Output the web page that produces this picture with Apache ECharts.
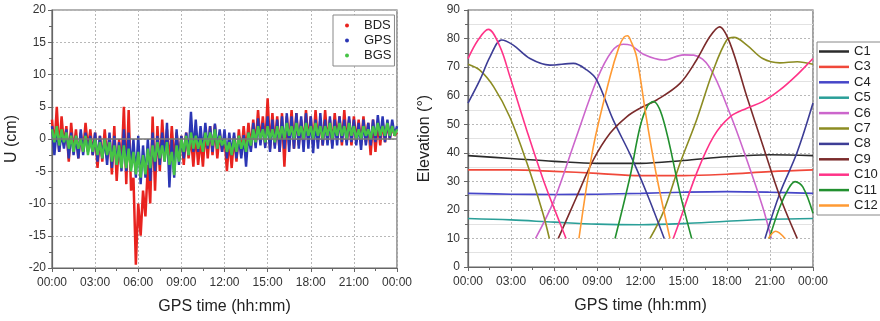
<!DOCTYPE html>
<html><head><meta charset="utf-8">
<script src="https://cdn.jsdelivr.net/npm/echarts@6/dist/echarts.min.js"></script>
<style>html,body{margin:0;padding:0;background:#fff}#c{width:880px;height:321px}</style>
</head><body><div id="c"></div>
<script>
// ---- tick labels ----
const tickLabels = ['00:00','03:00','06:00','09:00','12:00','15:00','18:00','21:00','00:00'];

// ---- left chart: U residuals (cm), one value every 10 min from 00:00 to 24:00 ----
const bds = [
3,-1.5,5,-2,3.5,-1,
2,-3.5,2.5,-2,1.5,-3,
1,-2,2.5,-1.5,1.5,-2.5,
1,-4.5,0.5,-3.5,1.5,-3,
0.5,-5.5,2,-6.5,0,-4.5,
5,-7,4.5,-8,-6,-19.5,
-10,-15,-8,-12,-4,-10,
3.5,-8,2,-5,3,-3,
1.5,-4,2,-3.5,1,-3,
0.5,-4,1,-3,0.5,-4.3,
1,-4,0,-4.3,1.5,-3,
2,-2.5,2.2,-3,1,-2,
0.5,-5,0,-4.5,0.5,-3.5,
1.5,-2.5,2,-2,2.5,-1.5,
3,-1,4.5,-0.5,3.5,-1,
6.3,-1.5,4,-1,3.5,-2,
4,-4.3,3.5,-1,4.5,-1.5,
4,-1,3,-1,4.5,-0.5,
3.5,-1,4.5,-0.5,3,-1,
4.5,-0.5,3,-1,4,0,
3.5,-1,4.5,-0.5,3,-1,
3.5,-0.5,3,-1,3.5,-0.5,
2.5,-2.5,3,-2,2.5,-1,
2.7,-0.5,2.5,0,2,0.5,
1];
const gps = [
2,-2.5,1.5,-2,1,-1.5,
1.5,-3,1,-2.5,0.5,-3,
1.5,-2.5,1,-2,0.5,-2.5,
1,-3.5,0.5,-3,0,-4,
1,-4.5,0.5,-4,-0.5,-5,
1.5,-5,1,-4.5,0,-6,
0.5,-7,-1,-6,0,-6.5,
1,-5,0.5,-4,1,-3.5,
2.5,-7.5,0,-6,1.5,-4,
0.5,-3,1,-2.5,4.2,-2,
3,-2,2,-2,2.5,-1.5,
2,-2,2.4,-1.5,1.5,-2,
1.5,-3,1,-2.5,1,-3,
0.5,-3,0.6,-4.3,1,-2,
2.5,-1.4,3.2,-1,2.5,-1.4,
3.5,-2,3,-1.5,3,-2,
3.5,-1.5,4,-2,3.5,-1.5,
4,-1.5,3.5,-2,4,-1.5,
3.5,-2.2,3,-1.5,4,-1,
3,-1,3.5,-1.5,3,-1,
3.5,-0.5,3,-1,3.5,-0.5,
3,-1,2.5,-1.7,3,-1,
2.5,-1,3,-0.5,3.7,0,
3.5,-0.5,3,0,3,0.5,
2];
const bgs = [
1.5,-0.5,2,-1,1.5,-0.5,
1,-1.5,0.5,-2,0.5,-1.5,
0,-2,0.5,-2.5,0,-2,
0,-2.5,-0.5,-3,0,-2.5,
-0.5,-3.5,-1,-4,-1,-4.5,
-1,-4.5,-1.5,-5,-2,-5.5,
-2,-6,-2.5,-5.5,-1.5,-4.5,
-1,-3.5,-0.5,-3,-1,-3.5,
-0.5,-4,-2,-5.6,-1,-3.5,
0,-2,0.5,-2.5,1,-1.5,
0.5,-1.5,0,-2,1,-1,
1,-1,1.5,-1.5,0.5,-1,
0,-2,-0.5,-2.5,0,-2,
0.5,-1.5,0,-2,1,-1,
1.5,-0.5,2,0,1.5,-0.5,
2,0,1.5,-0.5,2,0,
2,0,2.5,0.5,2,0,
2.5,0.5,2,0,2.5,0.5,
2,0,2.5,0.5,2,0,
2,0.5,2.5,0,2,0.5,
2.5,0.5,2,0,2.5,0.5,
2,0,1.5,0,2,0.5,
1.5,0,2,0.5,2.5,0.5,
2,0.5,2.5,0.5,2,0.5,
1.5];
const samplesPerHour = 6;

// ---- right chart: elevation (deg) vs GPS time (h) ----
const c1  = [[0,39],[3,38],[6,37],[9,36.3],[12,36.3],[15,37.3],[18,38.6],[21,39.3],[24,39]];
const c3  = [[0,34],[3,34],[6,33.5],[9,32.8],[12,32],[15,32],[18,32.5],[21,33.4],[24,34]];
const c4  = [[0,25.8],[3,25.5],[6,25.4],[9,25.5],[12,25.8],[15,26.2],[18,26.4],[21,26.2],[24,25.8]];
const c5  = [[0,17],[3,16.5],[6,15.7],[9,15],[12,14.8],[15,15.2],[18,16],[21,16.7],[24,17]];
const c6  = [[4.7,10],[6,23.5],[7.5,45],[9,66],[10,75.5],[10.8,78],[11.3,77.7],[12.2,74.5],[13.6,72.5],[15,74.3],[15.7,74.2],[16.8,70],[18.2,54],[19.4,37.5],[20.5,21],[21.1,10]];
const c7a = [[0,71],[0.8,69],[1.8,63],[2.9,52.6],[4.1,36.4],[5.2,19],[5.66,10]];
const c7b = [[12.66,10],[13.6,19.4],[14.75,36.3],[15.9,51.5],[17.07,69],[18,79.5],[18.5,80.4],[19.4,77.7],[20.5,73],[21.7,71.5],[22.9,71.9],[24,71]];
const c8a = [[0,57.4],[0.83,65.5],[1.53,73.6],[2.34,79.5],[3.15,77.7],[4.31,73],[5.7,70.7],[7.33,71.3],[8.26,69],[8.95,65.5],[10.1,51.5],[11.27,39.5],[12.43,25.9],[13.65,10]];
const c8b = [[20.66,10],[21.7,25.9],[22.87,39.8],[24,57.4]];
const c9  = [[6.28,10],[7.56,24.6],[8.72,37.5],[9.88,46.8],[11.04,52.6],[11.97,55.6],[13.13,58.5],[14.75,64.3],[15.9,72.5],[16.83,80.7],[17.5,84.1],[18.23,78.3],[19.4,59.6],[20.54,42.1],[21.7,24.6],[22.9,10]];
const c10a = [[0,73],[0.7,79.5],[1.41,83.2],[2.23,77.1],[2.92,66.6],[4.08,48],[5.24,30.5],[6.4,15.3],[6.82,10]];
const c10b = [[14.28,10],[14.75,16.5],[15.9,32.8],[17.07,45.6],[18.23,52.6],[19.4,55.6],[20.5,57.9],[21.7,62],[22.87,67.2],[23.9,72.5],[24,73]];
const c11a = [[10.23,10],[11.27,31.6],[11.97,49.1],[12.5,56.5],[12.9,57.9],[13.59,51.5],[14.75,25.8],[15.56,10]];
const c11b = [[20.96,10],[21.7,21.1],[22.3,27.5],[22.75,29.9],[23.3,28],[24,18.8]];
const c12a = [[7.72,10],[8.72,42.1],[9.88,66.6],[10.5,77],[10.85,80.5],[11.1,81],[11.3,79.5],[11.73,73.6],[12.43,51.5],[13.13,31.6],[14.05,10]];
const c12b = [[20.9,10],[21.4,12.5],[22.05,10]];

const satNames = ['C1','C3','C4','C5','C6','C7','C8','C9','C10','C11','C12'];
const satColors = {C1:'#2b2b2b',C3:'#f0483a',C4:'#4646c8',C5:'#2a9f98',C6:'#cc66cc',C7:'#8c8c22',C8:'#3d3d96',C9:'#7b2b2b',C10:'#ff3388',C11:'#22902f',C12:'#ff9a33'};
const satArcs = [
  ['C1',c1],['C3',c3],['C4',c4],['C5',c5],['C6',c6],['C7',c7a],['C7',c7b],['C8',c8a],['C8',c8b],
  ['C9',c9],['C10',c10a],['C10',c10b],['C11',c11a],['C11',c11b],['C12',c12a],['C12',c12b]
];

const toPairs = arr => arr.map((v,i)=>[i/samplesPerHour, v]);

const FONT = 'Liberation Sans, Arial, sans-serif';
const gridLine = {show:true, lineStyle:{color:'#b8b8b8', type:[2,2], width:1}};
function xAxisFor(gi){
  return {
    type:'value', gridIndex:gi, min:0, max:24, interval:3,
    name:'GPS time (hh:mm)', nameLocation:'middle', nameGap:31,
    nameTextStyle:{fontFamily:FONT, fontSize:16, color:'#222'},
    axisLine:{show:true, onZero:false, lineStyle:{color:'#666', width:1.2}},
    axisTick:{show:true, length:4, lineStyle:{color:'#666'}},
    minorTick:{show:true, splitNumber:2, length:3, lineStyle:{color:'#666'}},
    axisLabel:{fontFamily:FONT, fontSize:12, color:'#333', margin:9,
      formatter:v=>tickLabels[Math.round(v/3)]},
    splitLine:gridLine
  };
}
const legendText = {fontFamily:FONT, fontSize:13, color:'#222'};

const series = [];
const leftSets = [['BDS',bds,'#e8231f',2.5],['GPS',gps,'#2b36b4',2.4],['BGS',bgs,'#46c346',2.4]];
leftSets.forEach(([n,arr,col,w],k)=>{
  const s = {
    name:n, type:'line', xAxisIndex:0, yAxisIndex:0, data:toPairs(arr),
    showSymbol:false, symbol:'circle', color:col, lineStyle:{width:w, color:col, join:'bevel'},
    animation:false, silent:true, z:2+k
  };
  if(k===0){
    s.markLine = {silent:true, symbol:'none', label:{show:false},
      lineStyle:{color:'#777', width:1.5, type:'solid'}, data:[{yAxis:0}]};
  }
  series.push(s);
});
satArcs.forEach(([n,arr])=>{
  series.push({
    name:n, type:'line', xAxisIndex:1, yAxisIndex:1, data:arr, smooth:0.35,
    showSymbol:false, color:satColors[n], lineStyle:{width:1.6, color:satColors[n]},
    animation:false, silent:true
  });
});

const option = {
  animation:false,
  backgroundColor:'#fff',
  grid:[
    {left:52, right:483, top:10, bottom:53, show:true, borderColor:'#666', borderWidth:1.2},
    {left:468, right:67, top:10, bottom:54, show:true, borderColor:'#666', borderWidth:1.2}
  ],
  xAxis:[xAxisFor(0), xAxisFor(1)],
  yAxis:[
    {type:'value', gridIndex:0, min:-20, max:20, interval:5,
     name:'U (cm)', nameLocation:'middle', nameGap:32, nameRotate:90,
     nameTextStyle:{fontFamily:FONT, fontSize:16, color:'#222'},
     axisLine:{show:true, lineStyle:{color:'#666', width:1.2}},
     axisTick:{show:true, length:4, lineStyle:{color:'#666'}},
     minorTick:{show:true, splitNumber:2, length:3, lineStyle:{color:'#666'}},
     axisLabel:{fontFamily:FONT, fontSize:12, color:'#333', margin:6},
     splitLine:gridLine},
    {type:'value', gridIndex:1, min:0, max:90, interval:10,
     name:'Elevation (°)', nameLocation:'middle', nameGap:35, nameRotate:90,
     nameTextStyle:{fontFamily:FONT, fontSize:16, color:'#222'},
     axisLine:{show:true, lineStyle:{color:'#666', width:1.2}},
     axisTick:{show:true, length:4, lineStyle:{color:'#666'}},
     minorTick:{show:true, splitNumber:2, length:3, lineStyle:{color:'#666'}},
     minorSplitLine:{show:true, lineStyle:{color:'#e2e2e2', width:1}},
     axisLabel:{fontFamily:FONT, fontSize:12, color:'#333', margin:8},
     splitLine:gridLine}
  ],
  legend:[
    {orient:'vertical', left:333, top:15, backgroundColor:'#fff',
     borderColor:'#888', borderWidth:1, padding:[4,3,4,12], itemGap:2,
     itemWidth:4, itemHeight:4, icon:'circle',
     textStyle:Object.assign({}, legendText, {padding:[0,0,0,10]}),
     data:['BDS','GPS','BGS']},
    {orient:'vertical', left:817, top:42, backgroundColor:'#fff',
     borderColor:'#888', borderWidth:1, padding:[3,4,3,2], itemGap:2.4,
     itemWidth:30, itemHeight:2.5, icon:'rect',
     textStyle:legendText,
     data:satNames}
  ],
  series:series
};
const chart = echarts.init(document.getElementById('c'), null, {renderer:'canvas'});
chart.setOption(option);
</script>
</body></html>
